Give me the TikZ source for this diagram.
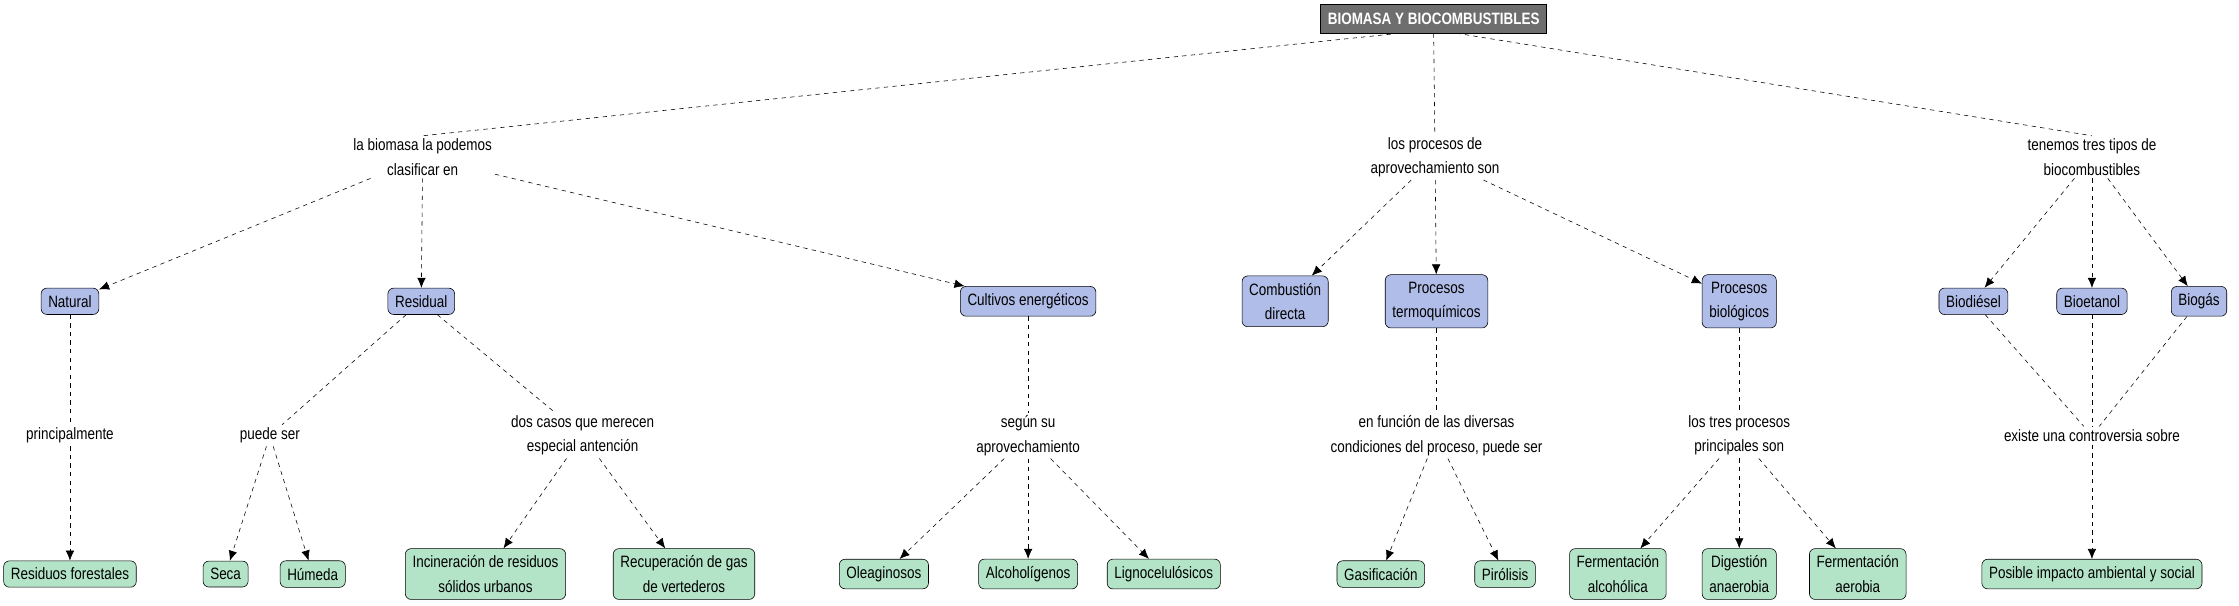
\documentclass[tikz,border=0pt]{standalone}
\usepackage{fontspec}
\setmainfont{Liberation Sans}[FakeStretch=0.82]
\usetikzlibrary{arrows.meta}
\tikzset{
  concept/.style={draw=black, rounded corners=4pt, inner xsep=5pt, inner ysep=5pt, align=center, font=\fontsize{11.5}{17}\selectfont},
  blue/.style={concept, fill={rgb,255:red,176;green,189;blue,232}},
  green/.style={concept, fill={rgb,255:red,179;green,228;blue,199}},
  lnk/.style={align=center, inner sep=2pt, font=\fontsize{11.5}{17}\selectfont},
  con/.style={dashed, thin},
  arr/.style={con, -{Latex[length=7pt,width=6pt]}}
}
\begin{document}
\begin{tikzpicture}[x=1pt,y=-1pt]
        \useasboundingbox (0,0) rectangle (1568,424);

        % title
        \node [draw=black, fill={rgb,255:red,110;green,110;blue,110}, text=white, inner xsep=5pt, inner ysep=6pt, font=\fontsize{11.5}{13}\selectfont\bfseries] (title) at (1004,13) {BIOMASA Y BIOCOMBUSTIBLES};

        % linking phrases
        \node [lnk] (l1) at (296,110) {la biomasa la podemos\\clasificar en};
        \node [lnk] (l2) at (1005,110) {los procesos de\\aprovechamiento son};
        \node [lnk] (l3) at (1465,110) {tenemos tres tipos de\\biocombustibles};

        % second level
        \node [blue] (nat) at (49,211) {Natural};
        \node [blue] (res) at (295,211) {Residual};
        \node [blue] (cul) at (720,211) {Cultivos energéticos};
        \node [blue] (com) at (900,211) {Combustión\\directa};
        \node [blue] (ter) at (1006,211) {Procesos\\termoquímicos};
        \node [blue] (bio) at (1218,211) {Procesos\\biológicos};
        \node [blue] (die) at (1382,211) {Biodiésel};
        \node [blue] (eta) at (1465,211) {Bioetanol};
        \node [blue] (gas) at (1540,211) {Biogás};

        \node [lnk] (p1) at (49,305) {principalmente};
        \node [lnk] (p2) at (189,305) {puede ser};
        \node [lnk] (p3) at (408,305) {dos casos que merecen\\especial antención};
        \node [lnk] (p4) at (720,305) {según su\\aprovechamiento};
        \node [lnk] (p5) at (1006,305) {en función de las diversas\\condiciones del proceso, puede ser};
        \node [lnk] (p6) at (1218,305) {los tres procesos\\principales son};
        \node [lnk] (p7) at (1465,305) {existe una controversia sobre};

        % third level
        \node [green] (rfo) at (49,402) {Residuos forestales};
        \node [green] (sec) at (158,402) {Seca};
        \node [green] (hum) at (219,402) {Húmeda};
        \node [green] (inc) at (340,402) {Incineración de residuos\\sólidos urbanos};
        \node [green] (rec) at (479,402) {Recuperación de gas\\de vertederos};
        \node [green] (ole) at (619,402) {Oleaginosos};
        \node [green] (alc) at (720,402) {Alcoholígenos};
        \node [green] (lig) at (815,402) {Lignocelulósicos};
        \node [green] (gsf) at (967,402) {Gasificación};
        \node [green] (pir) at (1054,402) {Pirólisis};
        \node [green] (fal) at (1133,402) {Fermentación\\alcohólica};
        \node [green] (dig) at (1218,402) {Digestión\\anaerobia};
        \node [green] (fae) at (1301,402) {Fermentación\\aerobia};
        \node [green] (imp) at (1465,402) {Posible impacto ambiental y social};

        % connectors
        \draw [con] ([xshift=-24pt]title.south) -- (l1.north);
        \draw [con] (title.south) -- (l2);
        \draw [con] ([xshift=16pt]title.south) -- (l3.north);
        \foreach \t in {nat,res,cul} \draw [arr] (l1) -- (\t);
        \foreach \t in {com,ter,bio} \draw [arr] (l2) -- (\t);
        \foreach \t in {die,eta,gas} \draw [arr] (l3) -- (\t);
        \draw [con] (nat) -- (p1);
        \draw [con] (res) -- (p2);
        \draw [con] (res) -- (p3);
        \draw [con] (cul) -- (p4);
        \draw [con] (ter) -- (p5);
        \draw [con] (bio) -- (p6);
        \foreach \s in {die,eta,gas} \draw [con] (\s) -- (p7);
        \draw [arr] (p1) -- (rfo);
        \foreach \t in {sec,hum} \draw [arr] (p2) -- (\t);
        \foreach \t in {inc,rec} \draw [arr] (p3) -- (\t);
        \foreach \t in {ole,alc,lig} \draw [arr] (p4) -- (\t);
        \foreach \t in {gsf,pir} \draw [arr] (p5) -- (\t);
        \foreach \t in {fal,dig,fae} \draw [arr] (p6) -- (\t);
        \draw [arr] (p7) -- (imp);
\end{tikzpicture}
\end{document}
